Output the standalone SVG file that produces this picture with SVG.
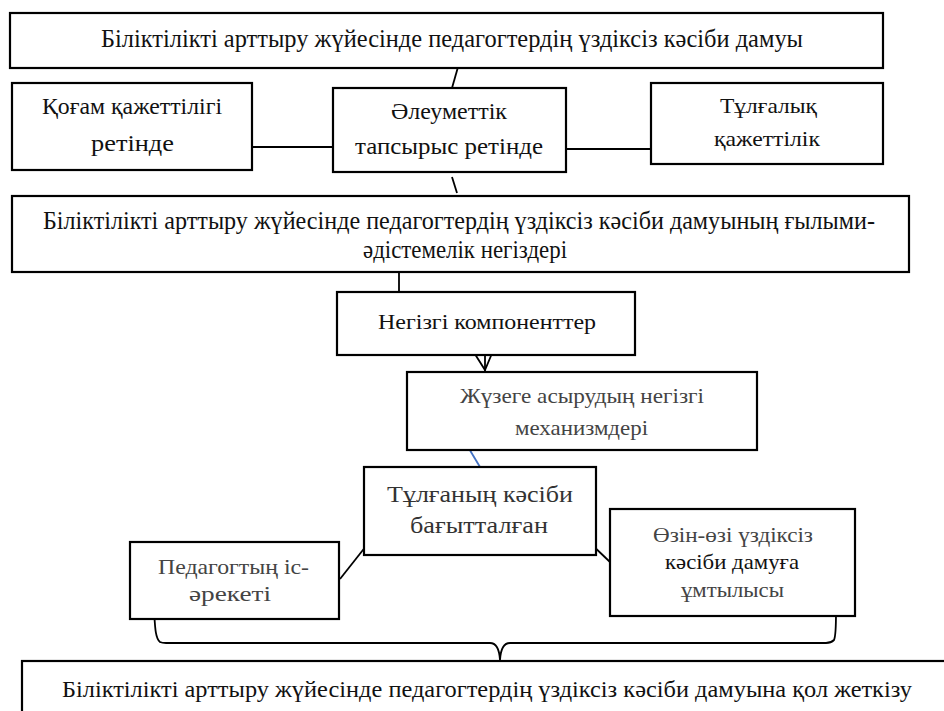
<svg xmlns="http://www.w3.org/2000/svg" width="944" height="711" viewBox="0 0 944 711">
<style>
.box{fill:#fff;stroke:#000;stroke-width:2.2}
.t{text-anchor:middle;fill:#111}
.g{fill:#444}
.c{stroke:#000;stroke-width:1.8;fill:none}
</style>
<rect width="944" height="711" fill="#fff"/>
<g id="connectors">
<line class="c" x1="458" y1="67" x2="452" y2="88"/>
<line class="c" x1="252" y1="147" x2="333" y2="147"/>
<line class="c" x1="566" y1="149" x2="659" y2="149"/>
<line class="c" x1="452" y1="177" x2="457" y2="193"/>
<line class="c" x1="399" y1="272" x2="399" y2="292"/>
<line class="c" x1="485" y1="355" x2="485" y2="371"/>
<polyline class="c" points="473,351 485,370 493,351"/>
<line x1="468" y1="447" x2="480" y2="467" stroke="#4472C4" stroke-width="1.8"/>
<line class="c" x1="393" y1="512" x2="340" y2="579"/>
<line class="c" x1="547" y1="502" x2="610" y2="562"/>
<path class="c" d="M154,610 C155,625 155,638 160,642 Q162,643 166,643 L490,643 Q499,643 500,660 Q501,643 510,643 L826,643 Q831,643 834,640 C836,636 836,625 836,612"/>
</g>
<g font-family="Liberation Serif, DejaVu Serif, serif">
<g id="n1">
<rect class="box" x="10" y="13" width="873" height="55"/>
<text class="t" x="452" y="47" font-size="25" textLength="702" lengthAdjust="spacingAndGlyphs">Біліктілікті арттыру жүйесінде педагогтердің үздіксіз кәсіби дамуы</text>
</g>
<g id="n2">
<rect class="box" x="12" y="83" width="240" height="87"/>
<text class="t" x="132" y="114" font-size="23" textLength="180" lengthAdjust="spacingAndGlyphs">Қоғам қажеттілігі</text>
<text class="t" x="132.5" y="151" font-size="23" textLength="83" lengthAdjust="spacingAndGlyphs">ретінде</text>
</g>
<g id="n3">
<rect class="box" x="333" y="88" width="233" height="84"/>
<text class="t" x="449" y="119" font-size="23" textLength="116" lengthAdjust="spacingAndGlyphs">Әлеуметтік</text>
<text class="t" x="449" y="154" font-size="23" textLength="188" lengthAdjust="spacingAndGlyphs">тапсырыс ретінде</text>
</g>
<g id="n4">
<rect class="box" x="651" y="83" width="232" height="81"/>
<text class="t" x="768.5" y="113" font-size="21" textLength="97" lengthAdjust="spacingAndGlyphs">Тұлғалық</text>
<text class="t" x="767" y="146" font-size="21" textLength="106" lengthAdjust="spacingAndGlyphs">қажеттілік</text>
</g>
<g id="n5">
<rect class="box" x="12" y="196" width="897" height="76"/>
<text class="t" x="459" y="229" font-size="25" textLength="832" lengthAdjust="spacingAndGlyphs">Біліктілікті арттыру жүйесінде педагогтердің үздіксіз кәсіби дамуының ғылыми-</text>
<text class="t" x="465" y="258" font-size="25" textLength="204" lengthAdjust="spacingAndGlyphs">әдістемелік негіздері</text>
</g>
<g id="n6">
<rect class="box" x="337" y="292" width="298" height="63"/>
<text class="t" x="487" y="329" font-size="22" textLength="218" lengthAdjust="spacingAndGlyphs">Негізгі компоненттер</text>
</g>
<g id="n7">
<rect class="box" x="407" y="372" width="350" height="78"/>
<text class="t g" x="582" y="403" font-size="21" textLength="244" lengthAdjust="spacingAndGlyphs">Жүзеге асырудың негізгі</text>
<text class="t g" x="581.5" y="435" font-size="21" textLength="133" lengthAdjust="spacingAndGlyphs">механизмдері</text>
</g>
<g id="n8">
<rect class="box" x="364" y="467" width="232" height="88"/>
<text class="t" x="480" y="502" font-size="24" style="fill:#333" textLength="186" lengthAdjust="spacingAndGlyphs">Тұлғаның кәсіби</text>
<text class="t" x="479" y="533" font-size="24" style="fill:#333" textLength="138" lengthAdjust="spacingAndGlyphs">бағытталған</text>
</g>
<g id="n9">
<rect class="box" x="130" y="542" width="209" height="77"/>
<text class="t g" x="233.5" y="574" font-size="22" textLength="151" lengthAdjust="spacingAndGlyphs">Педагогтың іс-</text>
<text class="t g" x="230" y="601" font-size="22" textLength="82" lengthAdjust="spacingAndGlyphs">әрекеті</text>
</g>
<g id="n10">
<rect class="box" x="610" y="509" width="245" height="107"/>
<text class="t g" x="733" y="542" font-size="21" textLength="160" lengthAdjust="spacingAndGlyphs">Өзін-өзі үздіксіз</text>
<text class="t" x="732" y="569" font-size="21" textLength="134" lengthAdjust="spacingAndGlyphs">кәсіби дамуға</text>
<text class="t g" x="732.5" y="597" font-size="21" textLength="103" lengthAdjust="spacingAndGlyphs">ұмтылысы</text>
</g>
<g id="n11">
<rect class="box" x="22" y="661" width="940" height="70"/>
<text class="t" x="487" y="697" font-size="24" textLength="850" lengthAdjust="spacingAndGlyphs">Біліктілікті арттыру жүйесінде педагогтердің үздіксіз кәсіби дамуына қол жеткізу</text>
</g>
</g>
</svg>
